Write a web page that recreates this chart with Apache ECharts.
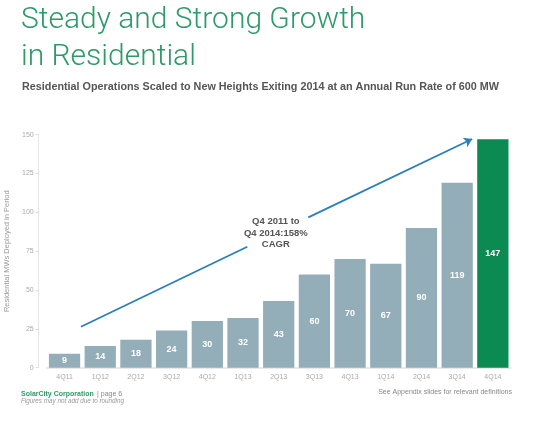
<!DOCTYPE html>
<html>
<head>
<meta charset="utf-8">
<script src="https://cdn.jsdelivr.net/npm/echarts@6/dist/echarts.min.js"></script>
<style>
  html, body { margin: 0; padding: 0; background: #fff; }
  #chart { width: 541px; height: 428px; }
</style>
</head>
<body>
<div id="chart"></div>
<script>
// quarters and MW deployed per quarter
var quarters = ["4Q11", "1Q12", "2Q12", "3Q12", "4Q12", "1Q13", "2Q13", "3Q13", "4Q13", "1Q14", "2Q14", "3Q14", "4Q14"];
var deployedMW = [9, 14, 18, 24, 30, 32, 43, 60, 70, 67, 90, 119, 147];
var yTicks = { min: 0, max: 150, interval: 25 };

// CAGR arrow, in (category index, MW) space
var arrowFrom = [0.46, 26.4];
var arrowGapStart = [5.12, 77.9];
var arrowGapEnd = [6.83, 96.8];
var arrowTo = [11.42, 147.2];
var arrowNote = [5.92, 86.7];
var arrowText = "Q4 2011 to\nQ4 2014:158%\nCAGR";

var barGrey = "#93adb9";
var barGreen = "#0b8a52";
var arrowBlue = "#2a7fb8";

var chart = echarts.init(document.getElementById("chart"));

var barData = deployedMW.map(function (v, i) {
  return {
    value: v,
    itemStyle: { color: i === deployedMW.length - 1 ? barGreen : barGrey }
  };
});

var option = {
  backgroundColor: "#fff",
  animation: false,
  textStyle: { fontFamily: "Liberation Sans, Arial, sans-serif" },
  title: [
    {
      text: "Steady and Strong Growth\nin Residential",
      left: 16,
      top: -3,
      textStyle: {
        fontFamily: "Roboto, Liberation Sans, sans-serif",
        fontWeight: 300,
        fontSize: 30,
        lineHeight: 37,
        color: "#2e9a68"
      }
    },
    {
      text: "Residential Operations Scaled to New Heights Exiting 2014 at an Annual Run Rate of 600 MW",
      left: 17,
      top: 77,
      textStyle: { fontSize: 10.8, fontWeight: "bold", color: "#555" }
    }
  ],
  graphic: [
    {
      type: "text",
      left: 21,
      top: 388,
      style: {
        text: "{g|SolarCity Corporation} {p|| page 6}",
        rich: {
          g: { fontSize: 7, fontWeight: "bold", fill: "#2e9a68", fontFamily: "Liberation Sans" },
          p: { fontSize: 7, fill: "#888", fontFamily: "Liberation Sans" }
        }
      }
    },
    {
      type: "text",
      left: 21,
      top: 398,
      style: {
        text: "Figures may not add due to rounding",
        fontSize: 6.3,
        fontStyle: "italic",
        fill: "#999",
        fontFamily: "Liberation Sans"
      }
    },
    {
      type: "text",
      right: 29,
      top: 389,
      style: {
        text: "See Appendix slides for relevant definitions",
        fontSize: 7,
        fill: "#888",
        fontFamily: "Liberation Sans"
      }
    }
  ],
  grid: { left: 46.7, right: 30.3, top: 134.7, bottom: 60.3, outerBoundsMode: "none" },
  xAxis: [
    {
      type: "category",
      data: quarters,
      axisLine: { lineStyle: { color: "#e2e2e2", width: 1.5 } },
      axisTick: { show: false },
      axisLabel: { color: "#aaa", fontSize: 7, margin: 6 }
    },
    {
      type: "value",
      min: -0.5,
      max: quarters.length - 0.5,
      show: false
    }
  ],
  yAxis: {
    type: "value",
    min: yTicks.min,
    max: yTicks.max,
    interval: yTicks.interval,
    offset: 8,
    name: "Residential MWs Deployed in Period",
    nameLocation: "middle",
    nameRotate: 90,
    nameGap: 26,
    nameTextStyle: { color: "#999", fontSize: 7.5 },
    axisLine: { show: true, onZero: false, lineStyle: { color: "#e6e6e6" } },
    axisTick: { show: true, length: 3, lineStyle: { color: "#ddd" } },
    axisLabel: { color: "#aaa", fontSize: 7, margin: 5 },
    splitLine: { show: false }
  },
  series: [
    {
      type: "bar",
      data: barData,
      barCategoryGap: "12.4%",
      label: {
        show: true,
        position: "inside",
        color: "#fff",
        fontWeight: "bold",
        fontSize: 9
      }
    },
    {
      type: "line",
      xAxisIndex: 1,
      data: [],
      silent: true,
      markLine: {
        silent: true,
        animation: false,
        label: { show: false },
        lineStyle: { color: arrowBlue, width: 1.8, type: "solid" },
        data: [
          [{ coord: arrowFrom, symbol: "none" }, { coord: arrowGapStart, symbol: "none" }],
          [{ coord: arrowGapEnd, symbol: "none" }, { coord: arrowTo, symbol: "arrow", symbolSize: 8 }]
        ]
      },
      markPoint: {
        silent: true,
        symbolSize: 0,
        data: [{ coord: arrowNote }],
        label: {
          show: true,
          formatter: arrowText,
          color: "#555",
          fontWeight: "bold",
          fontSize: 9.5,
          lineHeight: 11.5,
          align: "center"
        }
      }
    }
  ]
};

chart.setOption(option);
</script>
</body>
</html>
